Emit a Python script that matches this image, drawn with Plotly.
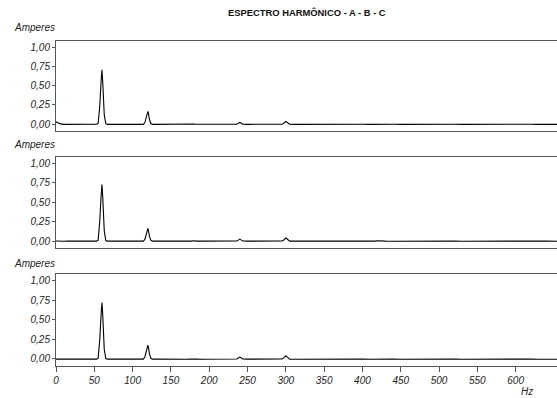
import plotly.graph_objects as go

# Frequency grid (Hz), shared by the three phases
freq = [0, 1, 3, 6, 10, 15, 20, 25, 30, 35, 40, 45, 50,
        53, 55, 57, 59, 60, 61, 63, 65, 67,
        70, 75, 80, 85, 90, 95, 100, 105, 110,
        114, 116, 118, 119, 120, 121, 122, 124, 126,
        130, 135, 140, 150, 160, 170,
        177, 180, 183,
        190, 200, 210,
        217, 220, 223,
        230,
        236, 238, 240, 242, 244,
        250, 260, 270, 280, 290,
        295, 297, 299, 300, 301, 303, 305,
        310, 320, 330, 340, 350, 360, 370, 380, 390, 400, 410,
        416, 420, 424,
        430, 440, 450, 460, 470,
        476, 480, 484,
        490, 500, 510, 520, 530, 540, 550, 560, 570, 580, 590, 600, 610, 620, 630, 640, 654]

amp_a = [0.030, 0.025, 0.012, 0.003, -0.003, -0.004, -0.003, -0.004, -0.003, -0.004, -0.003, -0.004, -0.003,
         -0.002, 0.010, 0.22, 0.58, 0.71, 0.55, 0.12, 0.005, -0.003,
         -0.003, -0.004, -0.003, -0.002, -0.003, -0.004, -0.003, -0.002, -0.003,
         -0.003, 0.02, 0.10, 0.15, 0.165, 0.12, 0.06, 0.005, -0.003,
         -0.003, -0.002, -0.003, -0.004, -0.003, -0.002,
         -0.002, 0.001, -0.002,
         -0.003, -0.002, -0.003,
         -0.002, 0.001, -0.002,
         -0.003,
         -0.002, 0.010, 0.022, 0.010, -0.002,
         -0.003, -0.002, -0.003, -0.002, -0.003,
         -0.002, 0.008, 0.030, 0.035, 0.028, 0.006, -0.002,
         -0.003, -0.002, -0.003, -0.002, -0.003, -0.002, -0.003, -0.002, -0.003, -0.002, -0.003,
         -0.002, 0.004, -0.002,
         -0.003, -0.002, -0.003, -0.002, -0.003,
         -0.002, 0.003, -0.002,
         -0.003, -0.002, -0.003, -0.002, -0.003, -0.002, -0.003, -0.002, -0.003, -0.002, -0.003, -0.002, -0.003, -0.002, -0.003, -0.002, -0.003]

amp_b = [0.000, -0.001, -0.001, -0.001, -0.002, -0.001, -0.002, -0.001, -0.002, -0.001, -0.002, -0.001, -0.001,
         -0.001, 0.012, 0.24, 0.60, 0.73, 0.57, 0.13, 0.006, -0.001,
         -0.001, -0.002, -0.001, -0.001, -0.002, -0.001, -0.001, -0.002, -0.001,
         -0.001, 0.02, 0.10, 0.145, 0.163, 0.12, 0.06, 0.005, -0.001,
         -0.001, -0.002, -0.001, -0.001, -0.002, -0.001,
         -0.001, 0.004, -0.001,
         -0.001, -0.002, -0.001,
         -0.001, 0.003, -0.001,
         -0.001,
         0.000, 0.012, 0.025, 0.012, 0.000,
         -0.001, -0.002, -0.001, -0.001, -0.002,
         0.000, 0.010, 0.034, 0.040, 0.032, 0.008, -0.001,
         -0.001, -0.002, -0.001, -0.001, -0.002, -0.001, -0.001, -0.002, -0.001, -0.001, -0.002,
         -0.001, 0.004, -0.001,
         -0.001, -0.002, -0.001, -0.001, -0.002,
         -0.001, 0.004, -0.001,
         -0.001, -0.002, -0.001, -0.001, -0.002, -0.001, -0.001, -0.002, -0.001, -0.001, -0.002, -0.001, -0.001, -0.002, -0.001, -0.001, -0.002]

amp_c = [-0.002, -0.002, -0.003, -0.002, -0.002, -0.003, -0.002, -0.002, -0.003, -0.002, -0.003, -0.002, -0.002,
         -0.002, 0.011, 0.23, 0.59, 0.72, 0.56, 0.12, 0.005, -0.002,
         -0.002, -0.003, -0.002, -0.003, -0.002, -0.003, -0.002, -0.003, -0.002,
         -0.002, 0.025, 0.11, 0.16, 0.177, 0.13, 0.065, 0.006, -0.002,
         -0.002, -0.003, -0.002, -0.003, -0.002, -0.003,
         -0.002, 0.002, -0.002,
         -0.003, -0.002, -0.003,
         -0.002, 0.002, -0.002,
         -0.003,
         -0.001, 0.012, 0.024, 0.012, -0.001,
         -0.002, -0.003, -0.002, -0.003, -0.002,
         -0.001, 0.010, 0.036, 0.042, 0.033, 0.008, -0.002,
         -0.003, -0.002, -0.003, -0.002, -0.003, -0.002, -0.003, -0.002, -0.003, -0.002, -0.003,
         -0.002, 0.004, -0.002,
         -0.003, -0.002, -0.003, -0.002, -0.003,
         -0.002, 0.003, -0.002,
         -0.003, -0.002, -0.003, -0.002, -0.003, -0.002, -0.003, -0.002, -0.003, -0.002, -0.003, -0.002, -0.003, -0.002, -0.003, -0.002, -0.003]

assert len(freq) == len(amp_a) == len(amp_b) == len(amp_c)

y_ticks = [0.0, 0.25, 0.5, 0.75, 1.0]
x_ticks = list(range(0, 601, 50))
title_text = "ESPECTRO HARMÔNICO - A - B - C"
y_title = "Amperes"
x_title = "Hz"

W, H = 557, 398
L, R, T, B = 56, 0, 41, 32
ph = H - T - B  # 325

def py(pix):
    return (H - B - pix) / ph

domains = [(py(131), py(41)), (py(248), py(157)), (py(366), py(274))]

fig = go.Figure()
font_family = "Liberation Sans, Arial, sans-serif"
axis_color = "#555555"

for i, amps in enumerate([amp_a, amp_b, amp_c]):
    n = i + 1
    fig.add_trace(go.Scatter(x=freq, y=amps, mode="lines",
                             line=dict(color="black", width=1.1),
                             xaxis=f"x{n}", yaxis=f"y{n}", showlegend=False,
                             hoverinfo="skip"))
    xa = dict(range=[0, 654], domain=[0, 1], anchor=f"y{n}",
              showgrid=False, zeroline=False, showline=True, linecolor=axis_color,
              linewidth=1, mirror=True, tickvals=x_ticks,
              tickfont=dict(family=font_family, size=10, style="italic", color="#222"))
    if n == 3:
        xa.update(ticks="outside", ticklen=5, tickcolor=axis_color, showticklabels=True)
    else:
        xa.update(ticks="", showticklabels=False, matches="x3")
    ya = dict(range=[-0.09, 1.085], domain=list(domains[i]), anchor=f"x{n}",
              showgrid=False, zeroline=False, showline=True, linecolor=axis_color,
              linewidth=1, mirror=True, tickvals=y_ticks, tickformat=".2f",
              ticks="outside", ticklen=3, tickcolor=axis_color,
              tickfont=dict(family=font_family, size=10, style="italic", color="#222"))
    fig.layout[f"xaxis{n}" if n > 1 else "xaxis"] = xa
    fig.layout[f"yaxis{n}" if n > 1 else "yaxis"] = ya

annots = []
for ypix in [27, 144, 263]:
    annots.append(dict(text=y_title, x=(12 - L) / (W - L - R), y=py(ypix), xref="paper", yref="paper",
                       xanchor="left", yanchor="middle", showarrow=False,
                       font=dict(family=font_family, size=10, style="italic", color="#222")))
annots.append(dict(text=x_title, x=(527 - L) / (W - L - R), y=py(391), xref="paper", yref="paper",
                   xanchor="center", yanchor="middle", showarrow=False,
                   font=dict(family=font_family, size=10, style="italic", color="#222")))
annots.append(dict(text="<b>" + title_text + "</b>", x=0.5, y=py(13), xref="paper", yref="paper",
                   xanchor="center", yanchor="middle", showarrow=False,
                   font=dict(family=font_family, size=9.4, color="#111")))

fig.update_layout(width=W, height=H, margin=dict(l=L, r=R, t=T, b=B),
                  plot_bgcolor="white", paper_bgcolor="white",
                  separators=",.", annotations=annots, showlegend=False)

fig.write_html("out.html", config={"displayModeBar": False, "staticPlot": True},
               post_script="document.body.style.margin='0';document.body.style.overflow='hidden';"
                           "document.documentElement.style.overflow='hidden';")
